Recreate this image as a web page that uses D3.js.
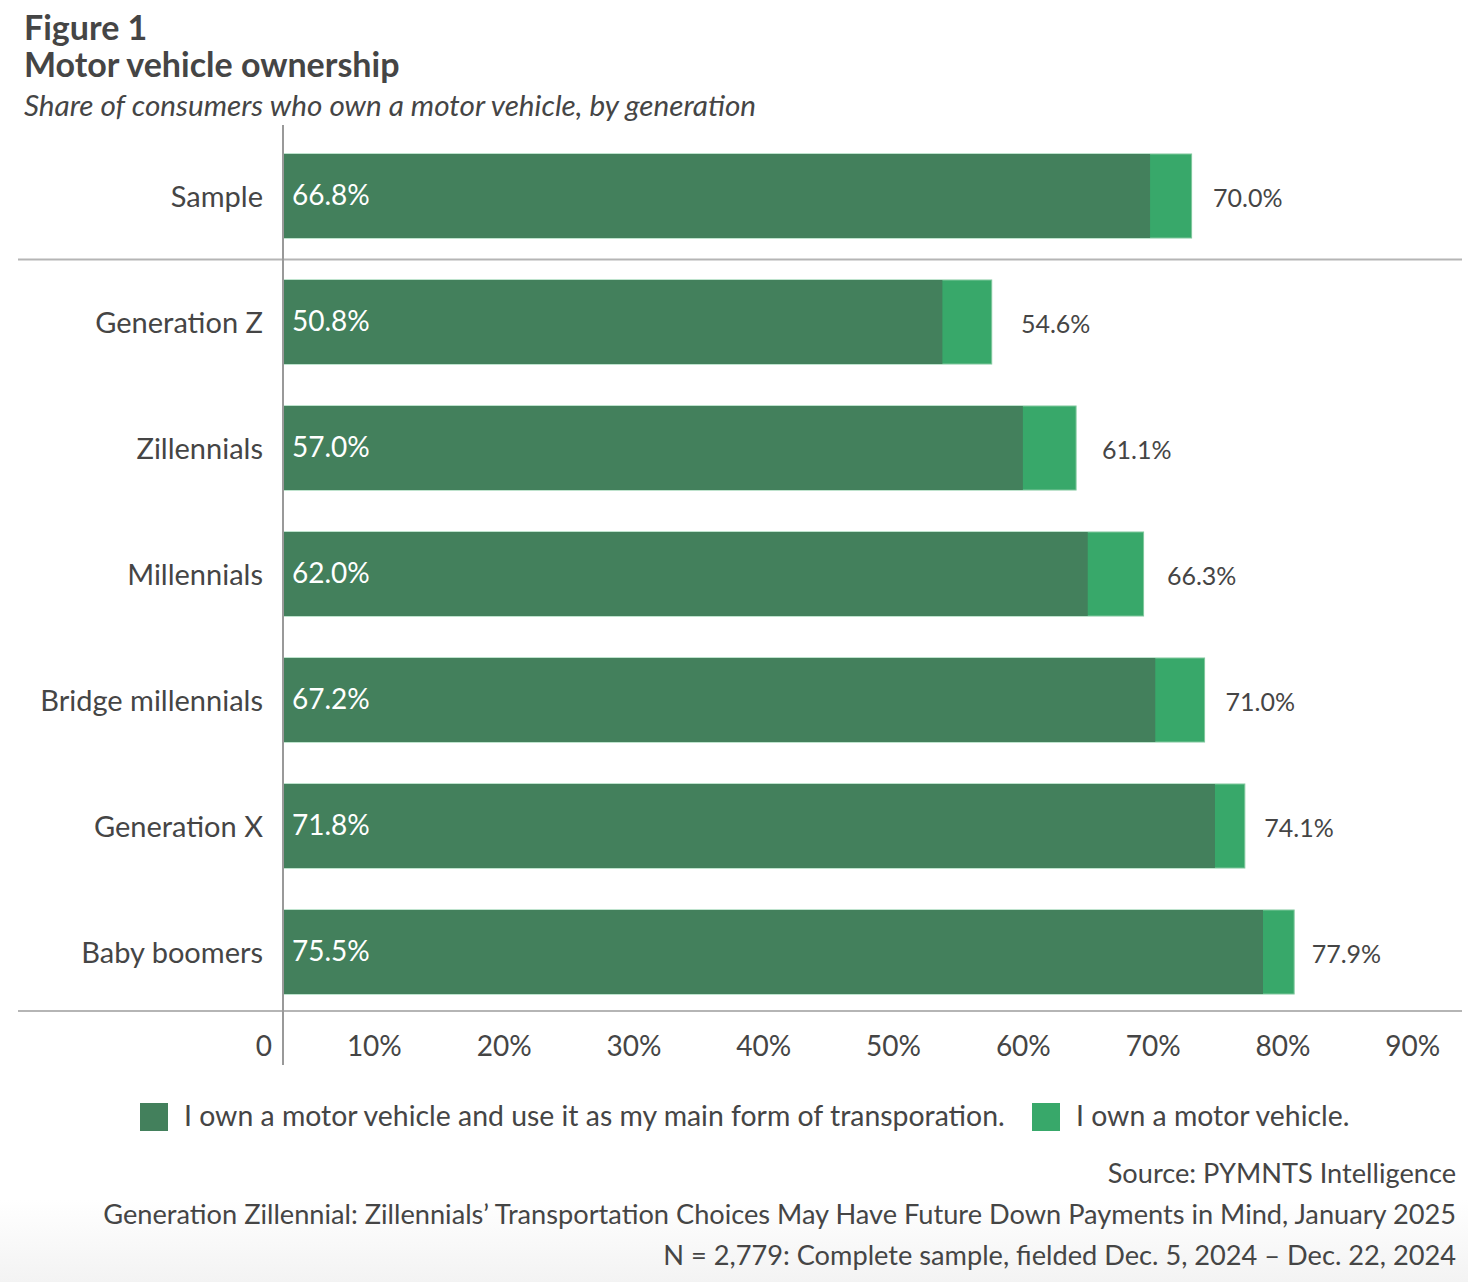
<!DOCTYPE html>
<html><head><meta charset="utf-8">
<script src="https://cdn.jsdelivr.net/npm/d3@7"></script>
<style>
html,body{margin:0;padding:0;background:#fff;}
svg{display:block;font-family:Lato,"Noto Sans",sans-serif;}
</style></head>
<body>
<svg id="chart" width="1468" height="1282"></svg>
<script>
const categories = ["Sample","Generation Z","Zillennials","Millennials","Bridge millennials","Generation X","Baby boomers"];
const mainTransport = [66.8, 50.8, 57.0, 62.0, 67.2, 71.8, 75.5];
const ownTotal = [70.0, 54.6, 61.1, 66.3, 71.0, 74.1, 77.9];
const tickValues = [0,10,20,30,40,50,60,70,80,90];
const tickLabels = ["0","10%","20%","30%","40%","50%","60%","70%","80%","90%"];
const seriesNames = ["I own a motor vehicle and use it as my main form of transporation.","I own a motor vehicle."];
const colors = ["#43805C","#38A86A"];
const textColor = "#454545";

const svg = d3.select("#chart");
const defs = svg.append("defs");
const grad = defs.append("linearGradient").attr("id","fade").attr("x1",0).attr("y1",0).attr("x2",0).attr("y2",1);
grad.append("stop").attr("offset","0").attr("stop-color","#ffffff");
grad.append("stop").attr("offset","1").attr("stop-color","#f3f3f3");
svg.append("rect").attr("x",0).attr("y",1200).attr("width",1468).attr("height",82).attr("fill","url(#fade)");

// titles
svg.append("text").attr("x",24).attr("y",40).attr("fill",textColor).attr("font-size",34).attr("font-weight",700).text("Figure 1");
svg.append("text").attr("x",24).attr("y",77).attr("fill",textColor).attr("font-size",34).attr("font-weight",700).text("Motor vehicle ownership");
svg.append("text").attr("x",24).attr("y",116).attr("fill",textColor).attr("font-size",29.7).attr("font-style","italic").text("Share of consumers who own a motor vehicle, by generation");

const x = d3.scaleLinear().domain([0,90]).range([283, 283 + 90*12.98]);
const y = d3.scaleBand().domain(categories).range([133, 1015]).paddingInner(1/3).paddingOuter(1/6);

// separator lines
svg.append("line").attr("x1",18).attr("x2",1462).attr("y1",259.5).attr("y2",259.5).attr("stroke","#b5b5b5").attr("stroke-width",2);
svg.append("line").attr("x1",18).attr("x2",1462).attr("y1",1011).attr("y2",1011).attr("stroke","#b5b5b5").attr("stroke-width",2);

const data = categories.map((c,i)=>({cat:c, main:mainTransport[i], total:ownTotal[i]}));

const g = svg.append("g");
g.selectAll(".tot").data(data).join("rect")
  .attr("x", x(0)).attr("y", d=>y(d.cat))
  .attr("width", d=>x(d.total)-x(0)).attr("height", y.bandwidth())
  .attr("fill", colors[1]).attr("stroke","#7fc79c").attr("stroke-width",1);
g.selectAll(".main").data(data).join("rect")
  .attr("x", x(0)).attr("y", d=>y(d.cat))
  .attr("width", d=>x(d.main)-x(0)).attr("height", y.bandwidth())
  .attr("fill", colors[0]);

// vertical axis line
svg.append("line").attr("x1",283).attr("x2",283).attr("y1",125).attr("y2",1065).attr("stroke","#999").attr("stroke-width",2);

// category labels
svg.selectAll(".cat").data(data).join("text")
  .attr("x",263).attr("y",d=>y(d.cat)+y.bandwidth()/2+1).attr("dy","0.35em")
  .attr("text-anchor","end").attr("fill",textColor).attr("font-size",29).text(d=>d.cat);

// inside labels
svg.selectAll(".inl").data(data).join("text")
  .attr("x",292).attr("y",d=>y(d.cat)+y.bandwidth()/2-1).attr("dy","0.35em")
  .attr("fill","#fff").attr("font-size",28).text(d=>d.main.toFixed(1)+"%");

// outside labels
svg.selectAll(".outl").data(data).join("text")
  .attr("x",d=>x(d.total)+23-0.5*(d.total-67)).attr("y",d=>y(d.cat)+y.bandwidth()/2+2).attr("dy","0.35em")
  .attr("fill",textColor).attr("font-size",25).text(d=>d.total.toFixed(1)+"%");

// x tick labels
svg.selectAll(".tick").data(tickValues).join("text")
  .attr("x",d=>x(d)-11).attr("y",1056).attr("text-anchor","end")
  .attr("fill",textColor).attr("font-size",28).text((d,i)=>tickLabels[i]);

// legend
const legX = [140, 1032];
seriesNames.forEach((s,i)=>{
  svg.append("rect").attr("x",legX[i]).attr("y",1103).attr("width",28).attr("height",28).attr("fill",colors[i]);
  svg.append("text").attr("x",legX[i]+44).attr("y",1126).attr("fill",textColor).attr("font-size",28.4).text(s);
});

// footer
const foot = ["Source: PYMNTS Intelligence","Generation Zillennial: Zillennials’ Transportation Choices May Have Future Down Payments in Mind, January 2025","N = 2,779: Complete sample, fielded Dec. 5, 2024 – Dec. 22, 2024"];
foot.forEach((t,i)=>{
  svg.append("text").attr("x",1456).attr("y",1183+i*41).attr("text-anchor","end").attr("fill",textColor).attr("font-size",27.2).text(t);
});
</script>
</body></html>
